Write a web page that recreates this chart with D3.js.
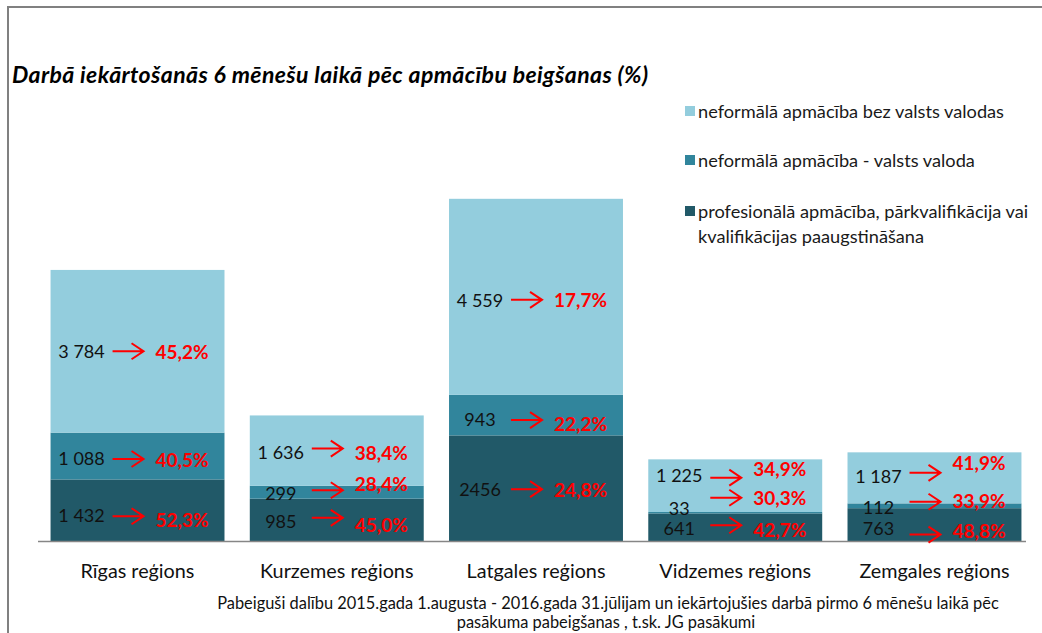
<!DOCTYPE html>
<html lang="lv">
<head>
  <meta charset="UTF-8" />
  <title>Darbā iekārtošanās 6 mēnešu laikā pēc apmācību beigšanas</title>
  <script src="https://d3js.org/d3.v7.min.js"></script>
  <style>
    html, body {
      margin: 0;
      padding: 0;
      background: #fff;
    }
    svg {
      display: block;
      font-family: "Lato", "Open Sans", sans-serif;
    }
    .frame {
      fill: none;
      stroke: #808080;
      stroke-width: 2px;
    }
    .chart-title {
      font-size: 23px;
      font-weight: bold;
      font-style: italic;
      letter-spacing: 0.4px;
      fill: #000;
    }
    .legend-text {
      font-size: 18.2px;
      fill: #1a1a1a;
    }
    .num-label {
      font-size: 18px;
      fill: #111;
      text-anchor: middle;
    }
    .pct-label {
      font-size: 19px;
      font-weight: bold;
      fill: #ff0000;
    }
    .arrow {
      fill: none;
      stroke: #ff0000;
      stroke-width: 2px;
    }
    .cat-label {
      font-size: 19.8px;
      fill: #111;
      text-anchor: middle;
    }
    .note {
      font-size: 16.4px;
      fill: #111;
      text-anchor: middle;
    }
  </style>
</head>
<body>
<svg id="chart" width="1042" height="633"></svg>

<script>
// regions on the x axis
const regions = ["Rīgas reģions", "Kurzemes reģions", "Latgales reģions", "Vidzemes reģions", "Zemgales reģions"];

// participants per programme type (stack order: bottom -> top)
const profesionala = [1432, 985, 2456, 641, 763];
const valstsValoda = [1088, 299, 943, 33, 112];
const bezValoda = [3784, 1636, 4559, 1225, 1187];

// share employed within 6 months
const pctProfesionala = ["52,3%", "45,0%", "24,8%", "42,7%", "48,8%"];
const pctValstsValoda = ["40,5%", "28,4%", "22,2%", "30,3%", "33,9%"];
const pctBezValoda = ["45,2%", "38,4%", "17,7%", "34,9%", "41,9%"];

const seriesNames = [
  "profesionālā apmācība, pārkvalifikācija vai kvalifikācijas paaugstināšana",
  "neformālā apmācība - valsts valoda",
  "neformālā apmācība bez valsts valodas"
];
const seriesKeys = ["prof", "valsts", "bez"];
const colors = { prof: "#215968", valsts: "#31859c", bez: "#93cddd" };

// hand-placed annotation offsets in the original (num, arrow, pct dy)
const labelNudge = {
  "Rīgas reģions":    [[5, 6, 9], [2, 3, 3], [0, 0, 0]],
  "Kurzemes reģions": [[1, -2, 5], [1, -2, -9], [1, -2, 2]],
  "Latgales reģions": [[1, 1, 1], [4, 5, 8], [3, 3, 3]],
  "Vidzemes reģions": [[1, -2, 2], [-5, -15, -15], [-11, -8, -17]],
  "Zemgales reģions": [[3, 10, 6], [1, -4, -5], [-2, -5, -15]]
};
const noGrouping = ["Latgales reģions|prof"];

const table = regions.map((r, i) => ({
  region: r,
  prof: profesionala[i], valsts: valstsValoda[i], bez: bezValoda[i],
  pct: { prof: pctProfesionala[i], valsts: pctValstsValoda[i], bez: pctBezValoda[i] }
}));

const svg = d3.select("#chart");

// outer frame (only top and left edges are visible in the picture)
svg.append("path")
  .attr("class", "frame")
  .attr("d", "M8,640 L8,7 L1050,7");

svg.append("text")
  .attr("class", "chart-title")
  .attr("x", 12)
  .attr("y", 83)
  .text("Darbā iekārtošanās 6 mēnešu laikā pēc apmācību beigšanas (%)");

const x = d3.scaleBand()
  .domain(regions)
  .range([38, 1034])
  .paddingInner(0.127)
  .paddingOuter(0.063);

const y = d3.scaleLinear()
  .domain([0, 8000])
  .range([541, 197]);

const stack = d3.stack().keys(seriesKeys)(table);

const groups = svg.append("g").selectAll("g")
  .data(stack)
  .join("g")
  .attr("fill", d => colors[d.key]);

groups.selectAll("rect")
  .data(d => d)
  .join("rect")
  .attr("x", d => x(d.data.region))
  .attr("width", x.bandwidth())
  .attr("y", d => y(d[1]))
  .attr("height", d => y(d[0]) - y(d[1]));

// category axis baseline
svg.append("line")
  .attr("x1", 38)
  .attr("x2", 1026)
  .attr("y1", y(0) + 0.5)
  .attr("y2", y(0) + 0.5)
  .attr("stroke", "#868686")
  .attr("stroke-width", 1.5);

svg.append("g")
  .selectAll("text")
  .data(regions)
  .join("text")
  .attr("class", "cat-label")
  .attr("x", d => x(d) + x.bandwidth() / 2)
  .attr("y", 578)
  .text(d => d);

// annotations: value -> employment share
const fmt = d3.formatLocale({ thousands: "\u00a0", grouping: [3], decimal: "," }).format(",d");
const labels = [];
stack.forEach((s, si) => {
  s.forEach(d => {
    const key = d.data.region + "|" + s.key;
    const v = d.data[s.key];
    labels.push({
      x0: x(d.data.region),
      yMid: y((d[0] + d[1]) / 2),
      nudge: labelNudge[d.data.region][si],
      num: noGrouping.includes(key) ? String(v) : fmt(v),
      pct: d.data.pct[s.key]
    });
  });
});

const lab = svg.append("g").selectAll("g")
  .data(labels)
  .join("g");

lab.append("text")
  .attr("class", "num-label")
  .attr("x", d => d.x0 + 31)
  .attr("y", d => d.yMid + d.nudge[0])
  .attr("dominant-baseline", "central")
  .text(d => d.num);

lab.append("path")
  .attr("class", "arrow")
  .attr("d", d => {
    const ay = d.yMid + d.nudge[1];
    const a0 = d.x0 + 62, a1 = d.x0 + 93;
    return `M${a0},${ay}H${a1}M${a1 - 12},${ay - 8}L${a1},${ay}L${a1 - 12},${ay + 8}`;
  });

lab.append("text")
  .attr("class", "pct-label")
  .attr("x", d => d.x0 + 105)
  .attr("y", d => d.yMid + d.nudge[2])
  .attr("dominant-baseline", "central")
  .text(d => d.pct);

// legend (top to bottom: light, mid, dark)
const legendRows = [
  { key: "bez", lines: [seriesNames[2]], y: 111 },
  { key: "valsts", lines: [seriesNames[1]], y: 160 },
  { key: "prof", lines: ["profesionālā apmācība, pārkvalifikācija vai", "kvalifikācijas paaugstināšana"], y: 211 }
];
const lg = svg.append("g").selectAll("g")
  .data(legendRows)
  .join("g");

lg.append("rect")
  .attr("x", 685)
  .attr("y", d => d.y - 5)
  .attr("width", 10)
  .attr("height", 10)
  .attr("fill", d => colors[d.key]);

lg.append("text")
  .attr("class", "legend-text")
  .attr("x", 698)
  .attr("y", d => d.y)
  .attr("dominant-baseline", "central")
  .selectAll("tspan")
  .data(d => d.lines)
  .join("tspan")
  .attr("x", 698)
  .attr("dy", (d, i) => i === 0 ? 0 : 25)
  .text(d => d);

// footnote
svg.append("text")
  .attr("class", "note")
  .attr("x", 608)
  .attr("y", 609)
  .text("Pabeiguši dalību 2015.gada 1.augusta - 2016.gada 31.jūlijam un iekārtojušies darbā pirmo 6 mēnešu laikā pēc");
svg.append("text")
  .attr("class", "note")
  .attr("x", 606)
  .attr("y", 628)
  .text("pasākuma pabeigšanas , t.sk. JG pasākumi");
</script>
</body>
</html>
